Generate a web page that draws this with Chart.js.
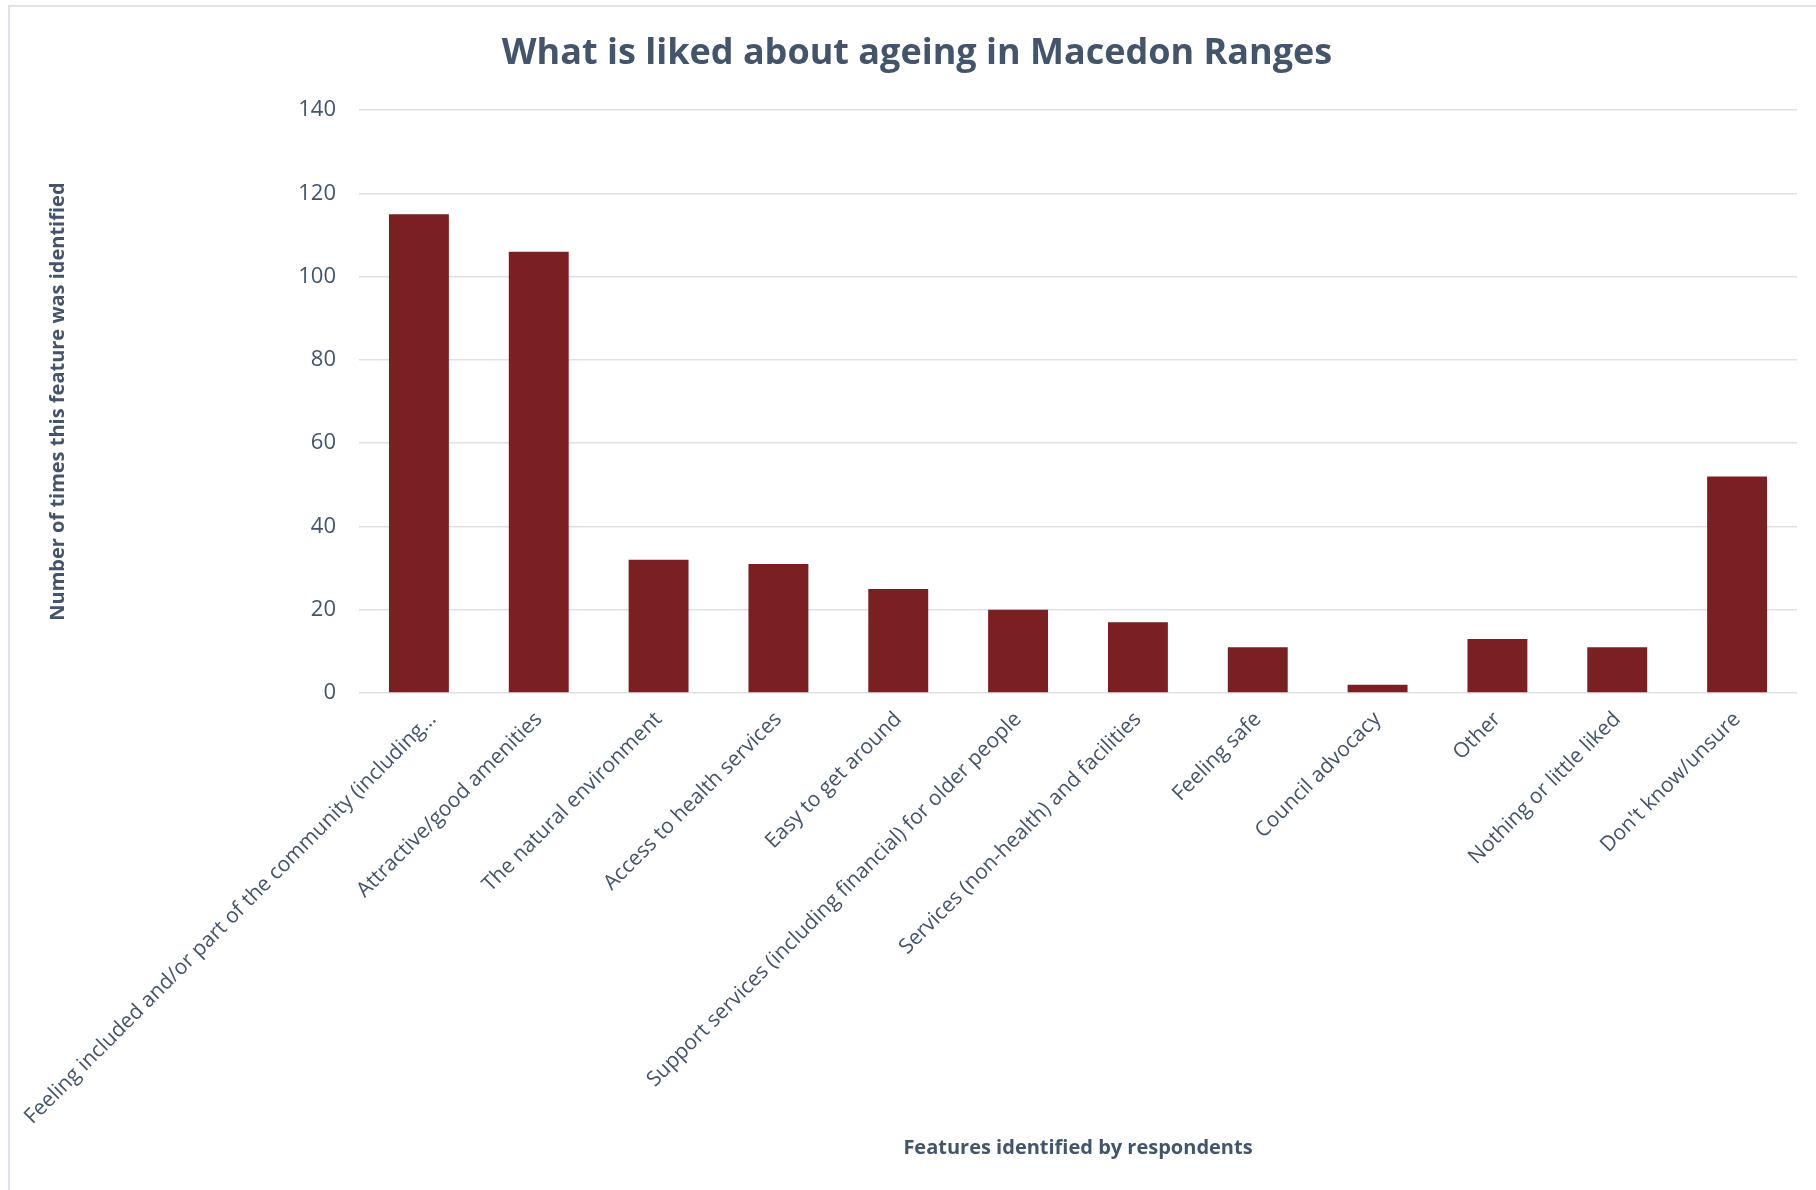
<!DOCTYPE html>
<html>
<head>
<meta charset="utf-8">
<script src="https://cdn.jsdelivr.net/npm/chart.js@4.4.1/dist/chart.umd.min.js"></script>
<style>
  body { margin: 0; background: #fff; }
  #wrap { position: relative; width: 1816px; height: 1190px; }
  #frame {
    position: absolute; left: 8px; top: 5px; right: 0; bottom: 0;
    border-left: 2px solid #dfe3e8; border-top: 2px solid #dfe3e8;
  }
  #chart { position: absolute; left: 0; top: 0; }
</style>
</head>
<body>
<div id="wrap">
  <div id="frame"></div>
  <canvas id="chart" width="1816" height="1190"></canvas>
</div>
<script>
// Chart data
const features = [
    'Feeling included and/or part of the community (including…',
    'Attractive/good amenities',
    'The natural environment',
    'Access to health services',
    'Easy to get around',
    'Support services (including financial) for older people',
    'Services (non-health) and facilities',
    'Feeling safe',
    'Council advocacy',
    'Other',
    'Nothing or little liked',
    "Don't know/unsure"
];
const timesIdentified = [115, 106, 32, 31, 25, 20, 17, 11, 2, 13, 11, 52];
const yTicks = [0, 20, 40, 60, 80, 100, 120, 140];

const textColor = '#44546A';
const barColor = '#7A2022';
const gridColor = '#dde1e7';

Chart.defaults.font.family = "'Open Sans', sans-serif";
Chart.defaults.color = textColor;

// the long truncated first label sits a bit further right in the original
const nudgeFirstLabel = {
    id: 'nudgeFirstLabel',
    afterLayout(chart) {
        const items = chart.scales.x.getLabelItems();
        if (items.length && items[0].options && items[0].options.translation) {
            items[0].options.translation[0] += 14;
        }
    }
};

const ctx = document.getElementById('chart').getContext('2d');
new Chart(ctx, {
    type: 'bar',
    data: {
        labels: features,
        datasets: [{
            label: 'Number of times',
            data: timesIdentified,
            backgroundColor: barColor,
            barPercentage: 0.5,
            categoryPercentage: 1.0
        }]
    },
    options: {
        responsive: false,
        animation: false,
        layout: { padding: { left: 37, right: 19, top: 0, bottom: 0 } },
        plugins: {
            legend: { display: false },
            tooltip: { enabled: false },
            title: {
                display: true,
                text: 'What is liked about ageing in Macedon Ranges',
                color: textColor,
                font: { size: 36, weight: 'bold' },
                padding: { top: 32, bottom: 35 }
            }
        },
        scales: {
            x: {
                grid: { display: false },
                border: { display: false },
                ticks: {
                    autoSkip: false,
                    maxRotation: 45,
                    minRotation: 45,
                    padding: 6,
                    color: textColor,
                    font: { size: 21 }
                },
                title: {
                    display: true,
                    text: 'Features identified by respondents',
                    color: textColor,
                    font: { size: 20, weight: 'bold' },
                    padding: { top: 4, bottom: 30 }
                },
                afterFit: scale => {
                    scale.paddingLeft = 0;
                    scale.paddingRight = 0;
                    scale.height = 497;
                }
            },
            y: {
                min: 0,
                max: 140,
                afterBuildTicks: scale => {
                    scale.ticks = yTicks.map(v => ({ value: v }));
                },
                grid: { color: gridColor, lineWidth: 1.5, drawTicks: false },
                border: { display: false },
                ticks: {
                    padding: 23,
                    color: textColor,
                    font: { size: 22 }
                },
                title: {
                    display: true,
                    text: 'Number of times this feature was identified',
                    color: textColor,
                    font: { size: 20, weight: 'bold' },
                    padding: { top: 9, bottom: 4 }
                },
                afterFit: scale => {
                    scale.width = 322;
                }
            }
        }
    },
    plugins: [nudgeFirstLabel]
});
</script>
</body>
</html>
